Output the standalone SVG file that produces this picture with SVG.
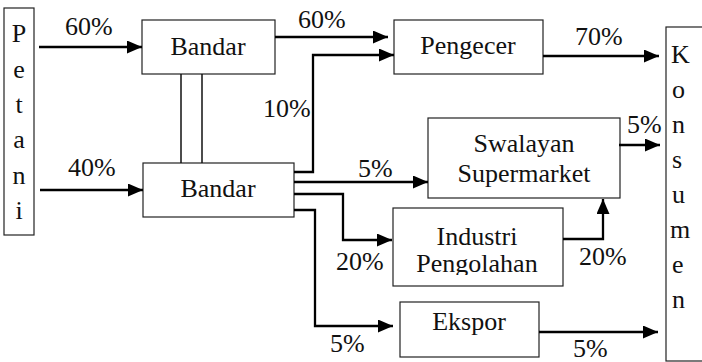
<svg xmlns="http://www.w3.org/2000/svg" width="702" height="362" viewBox="0 0 702 362" font-family="Liberation Serif, Times New Roman, serif">
<style>
.box{fill:#fff;stroke:#222;stroke-width:1.2}
.t{font-size:26px;fill:#111}
.c{text-anchor:middle}
.ln{fill:none;stroke:#000;stroke-width:2.3}
.thin{fill:none;stroke:#111;stroke-width:1.5}
</style>
<defs>
<marker id="ah" markerUnits="userSpaceOnUse" markerWidth="15" markerHeight="13" refX="15" refY="6.5" orient="auto">
<path d="M0,0 L15,6.5 L0,13 Z" fill="#000"/>
</marker>
<clipPath id="clipInd"><rect x="393" y="208" width="170" height="67"/></clipPath>
</defs>
<rect width="702" height="362" fill="#fff"/>

<g id="petani">
<rect class="box" x="4" y="8" width="30" height="227"/>
<text class="t c" x="19" y="42">P</text>
<text class="t c" x="19" y="78">e</text>
<text class="t c" x="19" y="113">t</text>
<text class="t c" x="19" y="148">a</text>
<text class="t c" x="19" y="184">n</text>
<text class="t c" x="19" y="219">i</text>
</g>

<g id="bandar1">
<rect class="box" x="142" y="20" width="133" height="54"/>
<text class="t c" x="208" y="55">Bandar</text>
</g>

<g id="bandar2">
<rect class="box" x="143" y="163" width="151" height="54"/>
<text class="t c" x="218" y="197">Bandar</text>
</g>

<g id="pengecer">
<rect class="box" x="394" y="20" width="149" height="54"/>
<text class="t c" x="468" y="54">Pengecer</text>
</g>

<g id="swalayan">
<rect class="box" x="428" y="118" width="192" height="80"/>
<text class="t c" x="524" y="152">Swalayan</text>
<text class="t c" x="524" y="182">Supermarket</text>
</g>

<g id="industri">
<rect class="box" x="393" y="208" width="170" height="78"/>
<text class="t c" x="477" y="245">Industri</text>
<text class="t c" x="477" y="272" clip-path="url(#clipInd)">Pengolahan</text>
</g>

<g id="ekspor">
<rect class="box" x="400" y="302" width="139" height="55"/>
<text class="t c" x="469" y="330">Ekspor</text>
</g>

<g id="konsumen">
<rect class="box" x="666" y="27" width="50" height="334"/>
<text class="t" x="671" y="63">K</text>
<text class="t" x="672" y="98">o</text>
<text class="t" x="672" y="133">n</text>
<text class="t" x="672" y="168">s</text>
<text class="t" x="672" y="203">u</text>
<text class="t" x="670" y="238">m</text>
<text class="t" x="672" y="273">e</text>
<text class="t" x="672" y="308">n</text>
</g>

<g id="connectors">
<line class="thin" x1="181" y1="74" x2="181" y2="163"/>
<line class="thin" x1="202" y1="74" x2="202" y2="163"/>
<line class="ln" x1="39" y1="47" x2="142" y2="47" marker-end="url(#ah)"/>
<line class="ln" x1="40" y1="190" x2="143" y2="190" marker-end="url(#ah)"/>
<line class="ln" x1="275" y1="37" x2="388" y2="37" marker-end="url(#ah)"/>
<polyline class="ln" points="294,172 313,172 313,55 394,55" marker-end="url(#ah)"/>
<line class="ln" x1="543" y1="56" x2="659" y2="56" marker-end="url(#ah)"/>
<line class="ln" x1="619" y1="145" x2="660" y2="145" marker-end="url(#ah)"/>
<line class="ln" x1="294" y1="182" x2="428" y2="182" marker-end="url(#ah)"/>
<polyline class="ln" points="294,194 343,194 343,240 392,240" marker-end="url(#ah)"/>
<polyline class="ln" points="563,239 603,239 603,199" marker-end="url(#ah)"/>
<polyline class="ln" points="294,210 315,210 315,326 393,326" marker-end="url(#ah)"/>
<line class="ln" x1="539" y1="332" x2="658" y2="332" marker-end="url(#ah)"/>
</g>

<g id="labels">
<text class="t" x="65" y="35">60%</text>
<text class="t" x="68" y="176">40%</text>
<text class="t" x="298" y="28">60%</text>
<text class="t" x="263" y="117">10%</text>
<text class="t" x="575" y="45">70%</text>
<text class="t" x="627" y="133">5%</text>
<text class="t" x="358" y="177">5%</text>
<text class="t" x="336" y="270">20%</text>
<text class="t" x="579" y="265">20%</text>
<text class="t" x="330" y="352">5%</text>
<text class="t" x="573" y="357">5%</text>
</g>
</svg>
